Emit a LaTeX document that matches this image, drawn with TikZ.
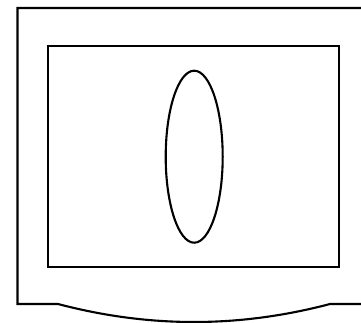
\documentclass[tikz,border=0pt]{standalone}
\usetikzlibrary{shapes.geometric}
\begin{document}
\begin{tikzpicture}[x=1pt,y=-1pt,
  edge/.style={draw=black,line width=2.1pt,line join=miter}]
\useasboundingbox (0,0) rectangle (361,323);
\coordinate (tr) at (362,8);
\coordinate (tl) at (17.5,8);
\coordinate (bl) at (17.5,304);
\coordinate (cl) at (58,304);
\coordinate (cr) at (330,304);
\coordinate (br) at (362,304);
\draw[edge] (tr) -- (tl) -- (bl) -- (cl) .. controls (149,328) and (239,328) .. (cr) -- (br);
\node[edge,draw,rectangle,minimum width=291pt,minimum height=221pt,inner sep=0pt] (screen) at (193.8,156.5) {};
\node[edge,draw,ellipse,minimum width=57pt,minimum height=172pt,inner sep=0pt] (oval) at (194.2,156.7) {};
\end{tikzpicture}
\end{document}
